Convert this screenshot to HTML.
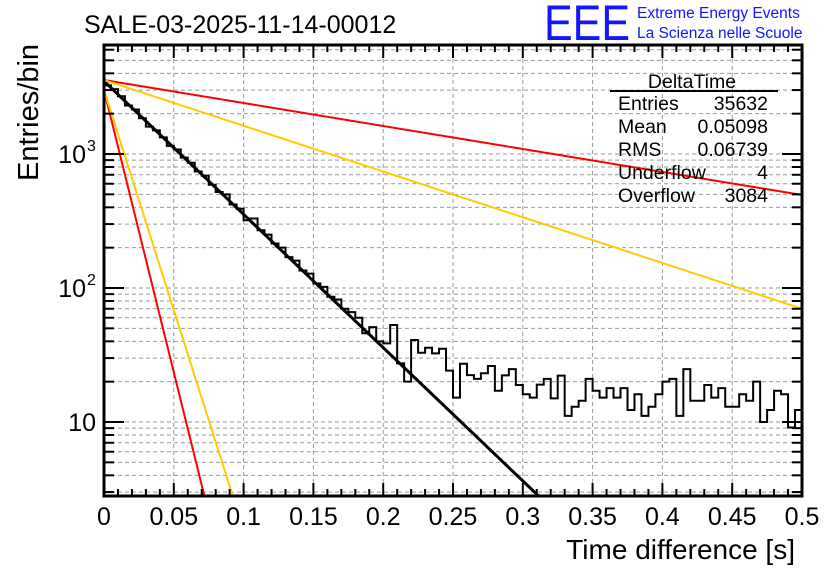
<!DOCTYPE html>
<html><head><meta charset="utf-8"><style>
body{margin:0;background:#fff;width:836px;height:572px;overflow:hidden}
svg{display:block;font-family:"Liberation Sans",Arial,sans-serif}
</style></head><body>
<svg id="c" width="836" height="572" viewBox="0 0 836 572">
<text x="84" y="33" font-size="25">SALE-03-2025-11-14-00012</text>
<text x="544" y="40" font-size="50" fill="#1414ff" textLength="86" lengthAdjust="spacingAndGlyphs">EEE</text>
<text x="637" y="18" font-size="15.5" fill="#1414ff">Extreme Energy Events</text>
<text x="637" y="38" font-size="15.5" fill="#1414ff">La Scienza nelle Scuole</text>
<g id="grid"></g>
<g id="curves"></g>
<g id="hist"></g>
<g id="axes"></g>
<g font-size="19.5">
<text x="692" y="88" text-anchor="middle">DeltaTime</text>
<line x1="610" y1="91" x2="778" y2="91" stroke="#000" stroke-width="2"/>
<text x="618" y="110">Entries</text><text x="768" y="110" text-anchor="end">35632</text>
<text x="618" y="133">Mean</text><text x="768" y="133" text-anchor="end">0.05098</text>
<text x="618" y="156">RMS</text><text x="768" y="156" text-anchor="end">0.06739</text>
<text x="618" y="179">Underflow</text><text x="768" y="179" text-anchor="end">4</text>
<text x="618" y="202">Overflow</text><text x="768" y="202" text-anchor="end">3084</text>
</g>
<text x="795" y="559" font-size="28" text-anchor="end">Time difference [s]</text>
<text transform="translate(38,181) rotate(-90)" font-size="29">Entries/bin</text>
</svg>
<script>
const binCounts=[3250,3050,2700,2300,2150,1850,1600,1500,1330,1150,1080,940,860,740,690,590,520,500,420,390,320,330,270,250,215,200,170,160,135,128,108,102,86,82,70,66,60,46,51,40,38.6,53,27.4,20,40.9,32.9,35.8,32.5,35.2,24.2,15.2,27.2,22.4,21,23.1,26.2,17.1,22.3,24.8,18.9,16.1,15.2,19,21,15,22.2,11.1,13,14.4,21,17.1,15.2,17.9,15.2,17.9,12.3,16.1,11.1,13,16.1,20,21,11.1,24.8,14.4,14.4,18.9,15.2,17.9,13,13,16.1,14.4,20,10,12.3,17.1,16.1,9.1,12.3];
const curveNames=["red-steep","yellow-steep","black-fit","red-shallow","yellow-shallow"];
const curveAmp=[3000,3000,3500,3565,3565];
const curveRate=[97,75.6,22.9,3.95,7.86];
const curveColor=["#ff0000","#ffcc00","#000000","#ff0000","#ffcc00"];
const xTicks=[0,0.05,0.1,0.15,0.2,0.25,0.3,0.35,0.4,0.45,0.5];
const xTickLabels=["0","0.05","0.1","0.15","0.2","0.25","0.3","0.35","0.4","0.45","0.5"];
const yDecades=[1,2,3];
const yDecadeLabels=["10","10","10"];
const yDecadeExp=["","2","3"];

const L=104,R=802,T=45,B=496,XMAX=0.5,binW=0.005;
const decPx=134, y10=422;
const X=t=>L+(t/XMAX)*(R-L);
const Y=v=>y10-(Math.log10(v)-1)*decPx;
const yMin=Math.pow(10,1-(B-y10)/decPx), yMax=Math.pow(10,1+(y10-T)/decPx);
const NS="http://www.w3.org/2000/svg";
function mk(tag,at,parent){const e=document.createElementNS(NS,tag);for(const k in at)e.setAttribute(k,at[k]);parent.appendChild(e);return e;}
const grid=document.getElementById('grid'),axes=document.getElementById('axes'),hist=document.getElementById('hist'),curves=document.getElementById('curves');
xTicks.forEach(t=>{if(t>0&&t<XMAX){const g=mk('line',{x1:X(t),x2:X(t),y1:T,y2:B,stroke:'#999','stroke-dasharray':'4,3','stroke-width':1},grid);

}});
for(let d=0;d<=3;d++)for(let m=1;m<=9;m++){const v=m*Math.pow(10,d);if(v<yMin||v>yMax)continue;const y=Y(v);
const g=mk('line',{x1:L,x2:R,y1:y,y2:y,stroke:'#999','stroke-dasharray':'4,3','stroke-width':1},grid);


const tl=mk('line',{x1:L,x2:L+(m==1?20:10),y1:y,y2:y,stroke:'#000','stroke-width':2},axes);


const tr=mk('line',{x1:R,x2:R-(m==1?20:10),y1:y,y2:y,stroke:'#000','stroke-width':2},axes);

}
curveNames.forEach((n,i)=>{let pts=[];const tEnd=Math.min(XMAX,Math.log(curveAmp[i]/yMin)/curveRate[i]);
for(let k=0;k<=200;k++){const t=tEnd*k/200;pts.push(X(t).toFixed(2)+','+Y(curveAmp[i]*Math.exp(-curveRate[i]*t)).toFixed(2));}
const p=mk('polyline',{points:pts.join(' '),fill:'none',stroke:curveColor[i],'stroke-width':n==='black-fit'?3:2},curves);

});
let d='';binCounts.forEach((v,i)=>{const x0=X(i*binW),x1=X((i+1)*binW),y=Y(Math.max(v,yMin));d+=(i==0?'M'+x0+','+y:'L'+x0+','+y)+'L'+x1+','+y;});
const h=mk('path',{d:d,fill:'none',stroke:'#000','stroke-width':2},hist);


const f=mk('rect',{x:L,y:T,width:R-L,height:B-T,fill:'none',stroke:'#000','stroke-width':3},axes);


for(let k=0;k<=50;k++){const t=k*0.01,x=X(t),len=(k%5==0)?13:7;
const a=mk('line',{x1:x,x2:x,y1:B,y2:B-len,stroke:'#000','stroke-width':2},axes);


const b=mk('line',{x1:x,x2:x,y1:T,y2:T+len,stroke:'#000','stroke-width':2},axes);

}
xTicks.forEach((t,i)=>{const tx=mk('text',{x:X(t),y:525,'font-size':25,'text-anchor':'middle'},axes);tx.textContent=xTickLabels[i];

});
yDecades.forEach((e,i)=>{const y=Y(Math.pow(10,e));const tx=mk('text',{x:yDecadeExp[i]?86:96,y:y+9,'font-size':25,'text-anchor':'end'},axes);tx.textContent=yDecadeLabels[i];


if(yDecadeExp[i]){const s=mk('text',{x:87,y:y-3,'font-size':16},axes);s.textContent=yDecadeExp[i];

}});
</script>
</body></html>
